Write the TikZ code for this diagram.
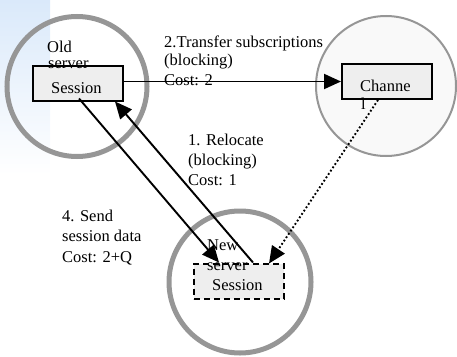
\documentclass[tikz,border=0pt]{standalone}
\usepackage{fontspec}
\setmainfont{Liberation Serif}
\usetikzlibrary{arrows.meta,calc}
\definecolor{ringgray}{RGB}{150,150,150}
\definecolor{boxfill}{RGB}{238,238,238}
\definecolor{ringfill}{RGB}{249,249,249}
\definecolor{bgblue}{RGB}{218,233,250}
\tikzset{
  ring/.style={circle, draw=ringgray, line width=5pt, minimum size=140pt, inner sep=0pt},
  thinring/.style={circle, draw=ringgray, fill=ringfill, line width=2pt, minimum size=140pt, inner sep=0pt},
  procbox/.style={rectangle, draw=black, fill=boxfill, line width=2pt,
    minimum width=90pt, minimum height=35pt, inner sep=0pt},
  newbox/.style={procbox, dash pattern=on 6pt off 4pt},
  lbl/.style={anchor=base west, inner sep=0pt, font=\fontsize{16.5}{19}\selectfont},
  flow/.style={line width=1.9pt, -{Triangle[length=17pt,width=15pt]}},
  notify/.style={flow, dash pattern=on 1.8pt off 2.2pt}
}
\begin{document}
\begin{tikzpicture}[x=1pt, y=-1pt]
\useasboundingbox (0,0) rectangle (457,356);
% faded corner panel behind the old server
\shade[top color=bgblue, middle color=bgblue!75, bottom color=white] (0,0) rectangle (50,175);

% server rings
\node[ring] (oldring) at (77,86.5) {};
\node[thinring] (chring) at (386,86) {};
\node[ring, minimum size=142pt] (newring) at (240,282) {};

% session and channel boxes
\node[procbox] (oldbox) at (78,83) {};
\node[procbox] (chbox) at (387,81.5) {};
\node[newbox] (nwbox) at (239,281) {};

% box captions
\node[lbl] (oldA) at (47,52) {Old};
\node[lbl] (oldB) at (48,68) {server};
\node[lbl] (oldS) at (51,93) {Session};
\node[lbl] (chA) at (360,91) {Channe};
\node[lbl] (chB) at (361,109) {l};
\node[lbl] (newA) at (207,250) {New};
\node[lbl] (newB) at (207,270) {server};
\node[lbl] (newS) at (212,290) {Session};

% step labels
\node[lbl] (t2a) at (164,47) {2.Transfer subscriptions};
\node[lbl] (t2b) at (164,65) {(blocking)};
\node[lbl] (t2c) at (164,85) {Cost: 2};
\node[lbl] (t1a) at (188,145) {1. Relocate};
\node[lbl] (t1b) at (188,165) {(blocking)};
\node[lbl] (t1c) at (188,185) {Cost: 1};
\node[lbl] (t4a) at (62,221) {4. Send};
\node[lbl] (t4b) at (62,241) {session data};
\node[lbl] (t4c) at (62,262) {Cost: 2+Q};

% connectors
\draw[flow] (oldbox.east |- chbox.west) -- (chbox.west);
\draw[flow] ([xshift=60pt]nwbox.north west) -- ([xshift=-9pt]oldbox.south east);
\draw[flow] ([xshift=47pt,yshift=3pt]oldbox.south west) -- ([xshift=26pt]nwbox.north west);
\draw[notify] ([xshift=37pt]chbox.south west) -- ([xshift=-16pt,yshift=-1pt]nwbox.north east);
\end{tikzpicture}
\end{document}
